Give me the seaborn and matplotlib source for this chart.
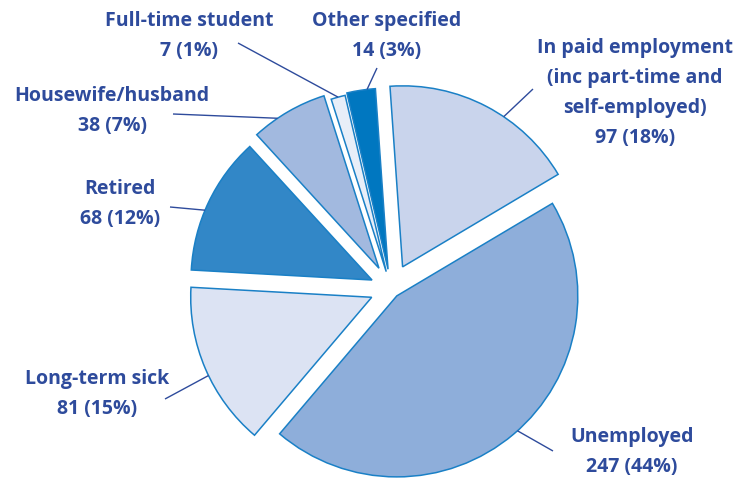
import matplotlib
matplotlib.use("Agg")
import matplotlib.pyplot as plt
import seaborn as sns
import numpy as np

sns.set_theme(style="white")
plt.rcParams['font.family'] = ['Open Sans', 'DejaVu Sans']

categories = ["In paid employment\n(inc part-time and\nself-employed)", "Unemployed", "Long-term sick",
              "Retired", "Housewife/husband", "Full-time student", "Other specified"]
counts = [97, 247, 81, 68, 38, 7, 14]
percents = [18, 44, 15, 12, 7, 1, 3]

colors = ["#C9D4EC", "#8EAEDA", "#DCE3F3", "#3287C7", "#A2B9DF", "#E8EEF8", "#0077C0"]
explode = [25, 9, 21, 21, 24, 18, 20]   # offsets in pixel units
text_color = "#2E4B9C"
edge_color = "#1A80C6"

H = 478
label_pos = [(635, H - 93), (632, H - 452), (97, H - 394), (120, H - 204),
             (112, H - 111), (189, H - 36), (387, H - 36)]
line_end = [(533, H - 89), (553, H - 451), (165, H - 399), (170, H - 207),
            (173, H - 114), (238, H - 43), (377, H - 68)]
arc_frac = [0.40, 0.51, 0.545, 0.56, 0.66, 0.50, 0.29]

fig = plt.figure(figsize=(7.44, 4.78), dpi=100)
ax = fig.add_axes([0, 0, 1, 1])

cx, cy, R = 391, H - 289, 181
wedges, _ = ax.pie(counts, colors=colors, explode=explode, startangle=94, counterclock=False,
                   center=(cx, cy), radius=R, frame=True,
                   wedgeprops=dict(edgecolor=edge_color, linewidth=1.1))
ax.set_xlim(0, 744)
ax.set_ylim(0, H)
ax.axis("off")

for w, cat, n, p, lp, le, f in zip(wedges, categories, counts, percents, label_pos, line_end, arc_frac):
    t1, t2 = w.theta1, w.theta2
    ang = np.deg2rad(t1 + (t2 - t1) * f)
    wc = w.center
    px = wc[0] + w.r * np.cos(ang)
    py = wc[1] + w.r * np.sin(ang)
    ax.plot([px, le[0]], [py, le[1]], color=text_color, lw=1.0, solid_capstyle="butt")
    ax.text(lp[0], lp[1], f"{cat}\n{n} ({p}%)", ha="center", va="center", color=text_color,
            fontsize=14, fontweight="bold", linespacing=1.66)

fig.savefig("out.png", dpi=100)
